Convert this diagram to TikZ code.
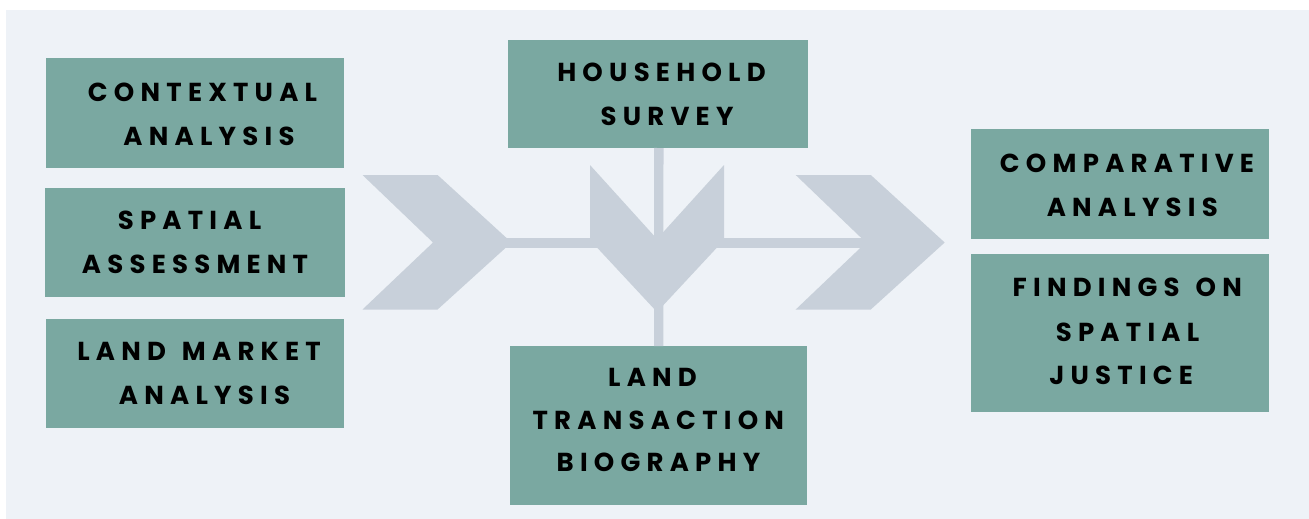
\documentclass[tikz,border=0pt]{standalone}
\usepackage{fontspec}
\newfontfamily\lblfont[LetterSpace=24]{Poppins}
\newcommand\wsp{\hspace{16pt}}
\definecolor{bgc}{HTML}{EEF2F7}
\definecolor{teal}{HTML}{7AA8A1}
\definecolor{chev}{HTML}{C8D0DA}
\tikzset{
  box/.style={fill=teal, draw=none, anchor=north west, inner sep=0pt, outer sep=0pt},
  lbl/.style={anchor=base, inner sep=0pt, font=\lblfont\bfseries\fontsize{26}{30}\selectfont, text=black},
  chevshape/.style={fill=chev, draw=none},
  link/.style={draw=chev, line width=9.4pt}
}
\begin{document}
\begin{tikzpicture}[x=1pt,y=-1pt]
\useasboundingbox (0,0) rectangle (1309,519);
\fill[white] (0,0) rectangle (1309,519);
\fill[bgc] (6,10) rectangle (1309,519);

% chevrons and V
\fill[chevshape] (362.5,175) -- (437.6,175) -- (511.5,242.5) -- (437.6,309.5) -- (362.5,309.5) -- (433,242.5) -- cycle;
\fill[chevshape] (795.7,175) -- (870.8,175) -- (944.7,242.5) -- (870.8,309.5) -- (795.7,309.5) -- (866,242.5) -- cycle;
\fill[chevshape] (590,165) -- (657,239) -- (724,165) -- (724,240) -- (657,312) -- (590,240) -- cycle;
\coordinate (ltip) at (505,243);
\coordinate (rnotch) at (868,243);

% boxes
\node[box, minimum width=298pt, minimum height=110pt] (ctx) at (46,58) {};
\node[box, minimum width=300pt, minimum height=109pt] (spa) at (45,188) {};
\node[box, minimum width=298pt, minimum height=109pt] (lma) at (46,319) {};
\node[box, minimum width=300pt, minimum height=108pt] (hh) at (508,40) {};
\node[box, minimum width=297pt, minimum height=159pt] (lt) at (510,346) {};
\node[box, minimum width=298pt, minimum height=110pt] (cmp) at (971,129) {};
\node[box, minimum width=298pt, minimum height=158pt] (fnd) at (971,254) {};

% connectors
\draw[link] (ltip) -- (rnotch);
\draw[link] ([xshift=0.8pt]hh.south) -- ([xshift=0.2pt]lt.north);

% labels
\node[lbl] (ctx1) at (202.5,101) {CONTEXTUAL};
\node[lbl] (ctx2) at (209,145) {ANALYSIS};
\node[lbl] (spa1) at (189.5,229.3) {SPATIAL};
\node[lbl] (spa2) at (195,273) {ASSESSMENT};
\node[lbl] (lma1) at (199,360) {LAND\wsp{}MARKET};
\node[lbl] (lma2) at (204.5,404) {ANALYSIS};
\node[lbl] (hh1) at (661.5,81.7) {HOUSEHOLD};
\node[lbl] (hh2) at (667,125.7) {SURVEY};
\node[lbl] (lt1) at (652.5,386.7) {LAND};
\node[lbl] (lt2) at (658.3,429.3) {TRANSACTION};
\node[lbl] (lt3) at (658.5,471) {BIOGRAPHY};
\node[lbl] (cmp1) at (1127,172.7) {COMPARATIVE};
\node[lbl] (cmp2) at (1132.3,216.7) {ANALYSIS};
\node[lbl] (fnd1) at (1127.3,296.7) {FINDINGS\wsp{}ON};
\node[lbl] (fnd2) at (1127.5,341) {SPATIAL};
\node[lbl] (fnd3) at (1121.2,384.3) {JUSTICE};
\end{tikzpicture}
\end{document}
